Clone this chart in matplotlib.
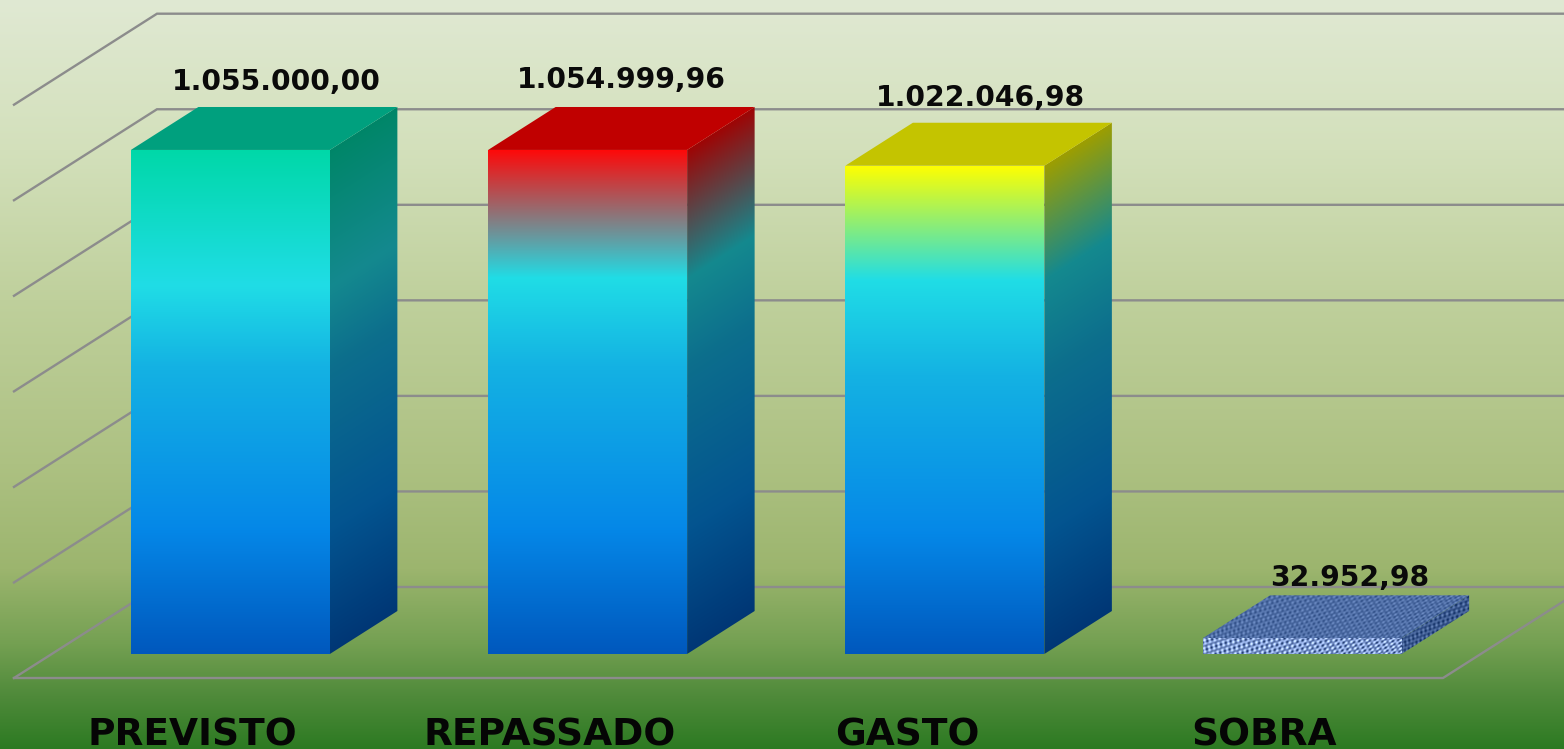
import matplotlib
matplotlib.use('Agg')
import matplotlib.pyplot as plt
import numpy as np
from matplotlib.colors import to_rgb
from matplotlib.patches import Polygon

categories = ['PREVISTO', 'REPASSADO', 'GASTO', 'SOBRA']
values = [1055000.00, 1054999.96, 1022046.98, 32952.98]
value_labels = ['1.055.000,00', '1.054.999,96', '1.022.046,98', '32.952,98']
y_ticks = [0, 200000, 400000, 600000, 800000, 1000000, 1200000]

# axes fill the figure, front plane of the floor runs 14..1443 px, baseline at 678 px
FIG_W, FIG_H = 1564, 749
PX_X = (1443 - 14) / 4
PX_Y = 95.55 / 200000
DEPTH_X = 143 / PX_X
DEPTH_Y = 91 / PX_Y
BAR_W = 199 / PX_X
BAR_FRONT, BAR_BACK = 0.264, 0.736
GRID = '#8c8c8c'


def project(x, y, d):
    return x + d * DEPTH_X, y + d * DEPTH_Y


def mid_color(stops, t):
    pos = [s[0] for s in stops]
    cols = np.array([to_rgb(s[1]) for s in stops])
    return np.stack([np.interp(t, pos, cols[:, i]) for i in range(3)], axis=-1)


def draw_clipped(ax, img, verts):
    xs = [v[0] for v in verts]
    ys = [v[1] for v in verts]
    im = ax.imshow(img, extent=(min(xs), max(xs), min(ys), max(ys)), origin='upper',
                   aspect='auto', interpolation='bilinear', zorder=3)
    poly = Polygon(verts, closed=True, transform=ax.transData, fc='none', ec='none')
    ax.add_patch(poly)
    im.set_clip_path(poly)


def box_corners(i, value):
    x0 = i + 0.5 - BAR_W / 2
    x1 = i + 0.5 + BAR_W / 2
    return (project(x0, 0, BAR_FRONT), project(x1, 0, BAR_FRONT),
            project(x1, value, BAR_FRONT), project(x0, value, BAR_FRONT),
            project(x1, 0, BAR_BACK), project(x1, value, BAR_BACK),
            project(x0, value, BAR_BACK))


def gradient_bar(ax, i, value, top_col, stops, lid_col):
    a, b, c, d, e, f, g = box_corners(i, value)

    # front face
    t = np.linspace(0, 1, 512)
    draw_clipped(ax, mid_color([(0, top_col)] + stops, t)[:, None, :], [a, b, c, d])

    # side face, gradient follows the depth direction
    ww, hh = np.meshgrid(np.linspace(0, 1, 64), t)
    span = 1 + DEPTH_Y * (BAR_BACK - BAR_FRONT) / value
    yy = (1 - hh) * span  # 0 at the bottom of the box
    frac = 1 - (yy - ww * (span - 1))
    img = mid_color([(0, top_col)] + stops, np.clip(frac, 0, 1)) * 0.62
    draw_clipped(ax, img, [b, e, f, c])

    ax.add_patch(Polygon([d, c, f, g], closed=True, fc=lid_col, ec='none', zorder=3))


def weave(n, m, base, amp):
    yy, xx = np.mgrid[0:n, 0:m]
    p = (np.sin(xx * 0.83 + yy * 0.47) * np.sin(yy * 1.13 - xx * 0.29)
         + 0.6 * np.sin(xx * 0.07 * yy * 0.11 + xx * 1.3))
    col = np.array(to_rgb(base))
    return np.clip(col[None, None, :] + amp * p[:, :, None], 0, 1)


def woven_bar(ax, i, value):
    a, b, c, d, e, f, g = box_corners(i, value)
    draw_clipped(ax, weave(45, 266, '#4f6ea6', 0.10), [d, c, f, g])
    draw_clipped(ax, weave(59, 68, '#3c5a90', 0.11), [b, e, f, c])
    draw_clipped(ax, weave(16, 199, '#7f9ad0', 0.24), [a, b, c, d])


fig = plt.figure(figsize=(FIG_W / 100, FIG_H / 100), dpi=100)
ax = fig.add_axes([0, 0, 1, 1])
xlim = (-14 / PX_X, (FIG_W - 14) / PX_X)
ylim = (-(FIG_H - 678) / PX_Y, 678 / PX_Y)

# background
bg_stops = [(0.0, '#e0e9d3'), (0.2, '#d3e0bb'), (0.4, '#bfd09c'), (0.62, '#adc182'),
            (0.76, '#9cb56e'), (0.86, '#74a052'), (0.93, '#4f8a3a'), (1.0, '#2c7a22')]
bg = mid_color(bg_stops, np.linspace(0, 1, 749))[:, None, :]
ax.imshow(bg, extent=(*xlim, *ylim), origin='upper', aspect='auto', zorder=0)

# gridlines on back and side wall, then floor
for tick in y_ticks:
    xs = [0, DEPTH_X, 4 + DEPTH_X]
    ys = [tick, tick + DEPTH_Y, tick + DEPTH_Y]
    ax.plot(xs, ys, color=GRID, lw=1.7, solid_joinstyle='miter', zorder=1)
ax.plot([DEPTH_X + 4, 4, 0], [DEPTH_Y, 0, 0], color=GRID, lw=1.7, solid_joinstyle='miter', zorder=1)

body = [(0.43, '#14b2e3'), (0.75, '#0588e8'), (1.0, '#0058bd')]
gradient_bar(ax, 0, values[0], '#00d8a8', [(0.27, '#20dde6')] + body, '#00a07e')
gradient_bar(ax, 1, values[1], '#ff0808', [(0.255, '#20dde6')] + body, '#c00000')
gradient_bar(ax, 2, values[2], '#ffff00', [(0.235, '#20dde6')] + body, '#c4c400')
woven_bar(ax, 3, values[3])

# value labels sit over the back edge of each bar, with hand offsets as in the original
label_dx = [-21.5, -33.5, -31.5, -20]
label_dy = [17, 19, 17, 9]
for i, (v, lab) in enumerate(zip(values, value_labels)):
    px, py = project(i + 0.5, v, BAR_BACK)
    ax.annotate(lab, (px, py), xytext=(label_dx[i] * 0.72, label_dy[i] * 0.72),
                textcoords='offset points', ha='center', va='baseline',
                fontsize=20.3, fontweight='bold', color='#0a0a0a', zorder=5)

for i, cat in enumerate(categories):
    ax.text(i + 0.5, -67 / PX_Y, cat, ha='center', va='baseline', fontsize=27,
            fontweight='bold', color='#050505', zorder=5)

ax.set_xlim(*xlim)
ax.set_ylim(*ylim)
ax.axis('off')
fig.savefig('out.png', dpi=100)
